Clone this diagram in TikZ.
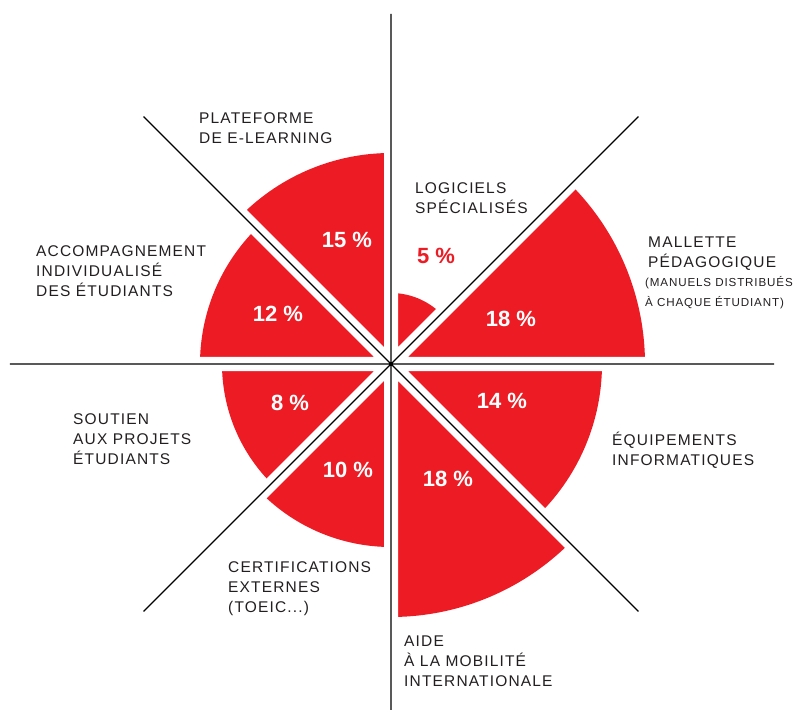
\documentclass[tikz,border=0pt]{standalone}
\usepackage{fontspec}
\setmainfont{Liberation Sans}
\newfontfamily\catfont[LetterSpace=7.5]{Liberation Sans}
\definecolor{chartred}{HTML}{ED1C24}
\definecolor{inkgrey}{HTML}{231F20}
\tikzset{
  wedge/.style={fill=chartred},
  whiteband/.style={draw=white, line width=14pt},
  blackline/.style={draw=black, line width=1.3pt},
  cat/.style={anchor=base west, inner sep=0pt, align=left, text=inkgrey,
              font=\catfont\fontsize{15.5}{20}\selectfont},
  small/.style={font=\catfont\fontsize{11.6}{20}\selectfont},
  pct/.style={text=white, inner sep=0pt, font=\bfseries\fontsize{22}{22}\selectfont},
}
\begin{document}
\begin{tikzpicture}[x=1pt, y=1pt]
  \useasboundingbox (-391,-345) rectangle (406,364);
  % the eight wedges
  \fill[wedge] (0,0) -- (0:254) arc[start angle=0, end angle=45, radius=254] -- cycle;
  \fill[wedge] (0,0) -- (45:71) arc[start angle=45, end angle=90, radius=71] -- cycle;
  \fill[wedge] (0,0) -- (90:211) arc[start angle=90, end angle=135, radius=211] -- cycle;
  \fill[wedge] (0,0) -- (135:191) arc[start angle=135, end angle=180, radius=191] -- cycle;
  \fill[wedge] (0,0) -- (180:169) arc[start angle=180, end angle=225, radius=169] -- cycle;
  \fill[wedge] (0,0) -- (225:183) arc[start angle=225, end angle=270, radius=183] -- cycle;
  \fill[wedge] (0,0) -- (270:253) arc[start angle=270, end angle=315, radius=253] -- cycle;
  \fill[wedge] (0,0) -- (315:211) arc[start angle=315, end angle=360, radius=211] -- cycle;
  % gaps and axes
  \draw[whiteband] (-270,0) -- (270,0)  (0,-270) -- (0,270)
                   (135:270) -- (315:270)  (45:270) -- (225:270);
  \draw[blackline] (-381,0) -- (383,0)  (0,350) -- (0,-350)
                   (135:350) -- (315:350)  (45:350) -- (225:350);
  % percentages
  \node[pct] (p0) at (120,45) {18 \%};
  \node[pct, text=chartred] (p1) at (45,108) {5 \%};
  \node[pct] (p2) at (-44,124) {15 \%};
  \node[pct] (p3) at (-113,50) {12 \%};
  \node[pct] (p4) at (-101,-39) {8 \%};
  \node[pct] (p5) at (-43,-106) {10 \%};
  \node[pct] (p6) at (57,-115) {18 \%};
  \node[pct] (p7) at (111,-37) {14 \%};
  % categories (anchored on the last line)
  \node[cat] (0) at (257,96) {MALLETTE\\PÉDAGOGIQUE};
  \node[cat, small] (0b) at (254,57) {(MANUELS DISTRIBUÉS\\À CHAQUE ÉTUDIANT)};
  \node[cat] (1) at (24,150) {LOGICIELS\\SPÉCIALISÉS};
  \node[cat] (2) at (-192,220) {PLATEFORME\\DE E-LEARNING};
  \node[cat] (3) at (-355,67) {ACCOMPAGNEMENT\\INDIVIDUALISÉ\\DES ÉTUDIANTS};
  \node[cat] (4) at (-318,-100) {SOUTIEN\\AUX PROJETS\\ÉTUDIANTS};
  \node[cat] (5) at (-163,-248) {CERTIFICATIONS\\EXTERNES\\(TOEIC...)};
  \node[cat] (6) at (13,-322) {AIDE\\À LA MOBILITÉ\\INTERNATIONALE};
  \node[cat] (7) at (221,-101) {ÉQUIPEMENTS\\INFORMATIQUES};
\end{tikzpicture}
\end{document}
